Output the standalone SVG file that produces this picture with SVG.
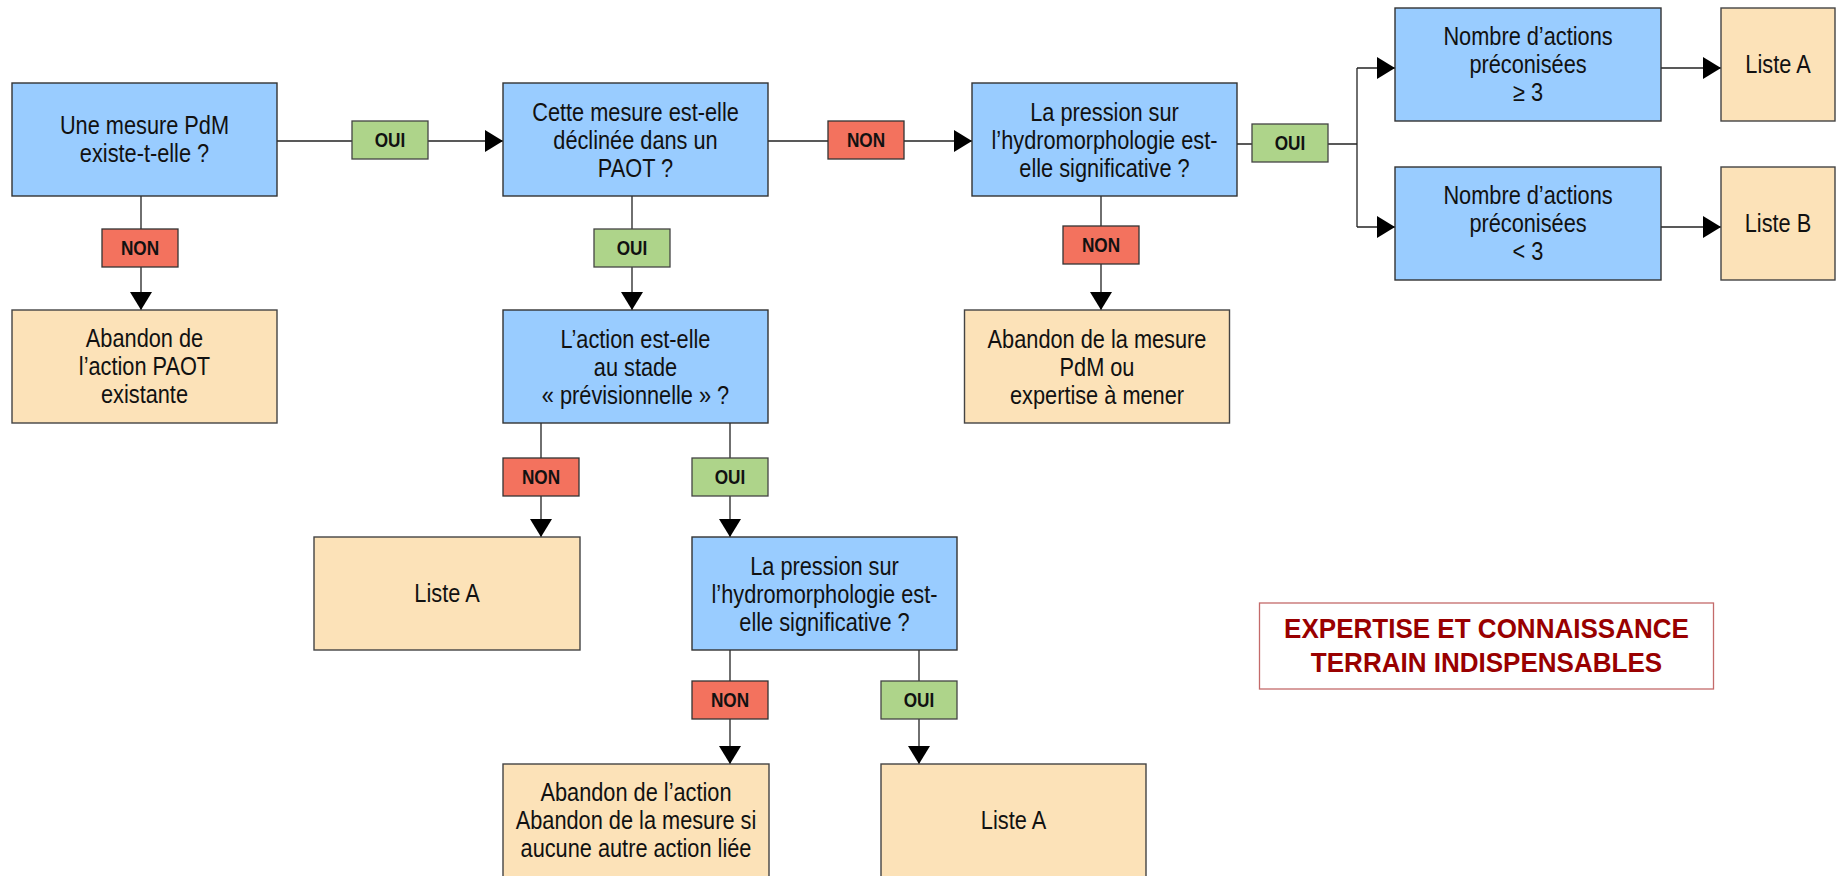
<svg xmlns="http://www.w3.org/2000/svg" width="1840" height="876" viewBox="0 0 1840 876">
<defs>
<marker id="arr" markerUnits="userSpaceOnUse" markerWidth="18" markerHeight="22" refX="18" refY="11" orient="auto" viewBox="0 0 18 22">
<path d="M0,0 L18,11 L0,22 Z" fill="#000"/>
</marker>
<style>
.q{fill:#99CCFF;stroke:#333;stroke-width:1.4}
.r{fill:#FCE2B8;stroke:#444;stroke-width:1.4}
.t{font-family:"Liberation Sans",Arial,sans-serif;font-size:25px;fill:#111;text-anchor:middle}
.ln{fill:none;stroke:#222;stroke-width:1.3}
.no{fill:#F3725E;stroke:#333;stroke-width:1.3}
.yes{fill:#AED48A;stroke:#444;stroke-width:1.3}
.lb{font-family:"Liberation Sans",Arial,sans-serif;font-size:20px;font-weight:bold;fill:#111;text-anchor:middle}
.ex{font-family:"Liberation Sans",Arial,sans-serif;font-size:28px;font-weight:bold;fill:#990000;text-anchor:middle}
</style>
</defs>
<rect width="1840" height="876" fill="#fff"/>

<g id="connectors">
<path class="ln" d="M277,141 H503" marker-end="url(#arr)"/>
<path class="ln" d="M768,141 H972" marker-end="url(#arr)"/>
<path class="ln" d="M141,196 V310" marker-end="url(#arr)"/>
<path class="ln" d="M632,196 V310" marker-end="url(#arr)"/>
<path class="ln" d="M1101,196 V310" marker-end="url(#arr)"/>
<path class="ln" d="M1237,144 H1357"/>
<path class="ln" d="M1357,68 V227"/>
<path class="ln" d="M1357,68 H1395" marker-end="url(#arr)"/>
<path class="ln" d="M1357,227 H1395" marker-end="url(#arr)"/>
<path class="ln" d="M1661,68 H1721" marker-end="url(#arr)"/>
<path class="ln" d="M1661,227 H1721" marker-end="url(#arr)"/>
<path class="ln" d="M541,423 V537" marker-end="url(#arr)"/>
<path class="ln" d="M730,423 V537" marker-end="url(#arr)"/>
<path class="ln" d="M730,650 V764" marker-end="url(#arr)"/>
<path class="ln" d="M919,650 V764" marker-end="url(#arr)"/>

<rect class="yes" x="352" y="121" width="76" height="38"/><text class="lb" transform="translate(390,147) scale(0.86,1)">OUI</text>
<rect class="no" x="828" y="121" width="76" height="38"/><text class="lb" transform="translate(866,147) scale(0.86,1)">NON</text>
<rect class="no" x="102" y="229" width="76" height="38"/><text class="lb" transform="translate(140,255) scale(0.86,1)">NON</text>
<rect class="yes" x="594" y="229" width="76" height="38"/><text class="lb" transform="translate(632,255) scale(0.86,1)">OUI</text>
<rect class="no" x="1063" y="226" width="76" height="38"/><text class="lb" transform="translate(1101,252) scale(0.86,1)">NON</text>
<rect class="yes" x="1252" y="124" width="76" height="38"/><text class="lb" transform="translate(1290,150) scale(0.86,1)">OUI</text>
<rect class="no" x="503" y="458" width="76" height="38"/><text class="lb" transform="translate(541,484) scale(0.86,1)">NON</text>
<rect class="yes" x="692" y="458" width="76" height="38"/><text class="lb" transform="translate(730,484) scale(0.86,1)">OUI</text>
<rect class="no" x="692" y="681" width="76" height="38"/><text class="lb" transform="translate(730,707) scale(0.86,1)">NON</text>
<rect class="yes" x="881" y="681" width="76" height="38"/><text class="lb" transform="translate(919,707) scale(0.86,1)">OUI</text>
</g>

<g id="n1"><rect class="q" x="12" y="83" width="265" height="113"/>
<g transform="translate(144.5,0) scale(0.87,1)"><text class="t" x="0" y="134.5">Une mesure PdM</text><text class="t" x="0" y="162.5">existe-t-elle ?</text></g></g>
<g id="n2"><rect class="r" x="12" y="310" width="265" height="113"/>
<g transform="translate(144.5,0) scale(0.87,1)"><text class="t" x="0" y="347.5">Abandon de</text><text class="t" x="0" y="375.5">l’action PAOT</text><text class="t" x="0" y="403.5">existante</text></g></g>
<g id="n3"><rect class="q" x="503" y="83" width="265" height="113"/>
<g transform="translate(635.5,0) scale(0.87,1)"><text class="t" x="0" y="121">Cette mesure est-elle</text><text class="t" x="0" y="149">déclinée dans un</text><text class="t" x="0" y="177">PAOT ?</text></g></g>
<g id="n4"><rect class="q" x="503" y="310" width="265" height="113"/>
<g transform="translate(635.5,0) scale(0.87,1)"><text class="t" x="0" y="348">L’action est-elle</text><text class="t" x="0" y="376">au stade</text><text class="t" x="0" y="404">« prévisionnelle » ?</text></g></g>
<g id="n5"><rect class="q" x="972" y="83" width="265" height="113"/>
<g transform="translate(1104.5,0) scale(0.87,1)"><text class="t" x="0" y="121">La pression sur</text><text class="t" x="0" y="149">l’hydromorphologie est-</text><text class="t" x="0" y="177">elle significative ?</text></g></g>
<g id="n6"><rect class="r" x="964.5" y="310" width="265" height="113"/>
<g transform="translate(1097,0) scale(0.87,1)"><text class="t" x="0" y="348">Abandon de la mesure</text><text class="t" x="0" y="376">PdM ou</text><text class="t" x="0" y="404">expertise à mener</text></g></g>
<g id="n7"><rect class="q" x="1395" y="8" width="266" height="113"/>
<g transform="translate(1528,0) scale(0.87,1)"><text class="t" x="0" y="45">Nombre d’actions</text><text class="t" x="0" y="73">préconisées</text><text class="t" x="0" y="101">≥ 3</text></g></g>
<g id="n8"><rect class="q" x="1395" y="167" width="266" height="113"/>
<g transform="translate(1528,0) scale(0.87,1)"><text class="t" x="0" y="204">Nombre d’actions</text><text class="t" x="0" y="232">préconisées</text><text class="t" x="0" y="260">&lt; 3</text></g></g>
<g id="n9"><rect class="r" x="1721" y="8" width="114" height="113"/>
<g transform="translate(1778,0) scale(0.87,1)"><text class="t" x="0" y="73">Liste A</text></g></g>
<g id="n10"><rect class="r" x="1721" y="167" width="114" height="113"/>
<g transform="translate(1778,0) scale(0.87,1)"><text class="t" x="0" y="232">Liste B</text></g></g>
<g id="n11"><rect class="r" x="314" y="537" width="266" height="113"/>
<g transform="translate(447,0) scale(0.87,1)"><text class="t" x="0" y="602">Liste A</text></g></g>
<g id="n12"><rect class="q" x="692" y="537" width="265" height="113"/>
<g transform="translate(824.5,0) scale(0.87,1)"><text class="t" x="0" y="575">La pression sur</text><text class="t" x="0" y="603">l’hydromorphologie est-</text><text class="t" x="0" y="631">elle significative ?</text></g></g>
<g id="n13"><rect class="r" x="503" y="764" width="266" height="113"/>
<g transform="translate(636,0) scale(0.87,1)"><text class="t" x="0" y="801">Abandon de l’action</text><text class="t" x="0" y="829">Abandon de la mesure si</text><text class="t" x="0" y="857">aucune autre action liée</text></g></g>
<g id="n14"><rect class="r" x="881" y="764" width="265" height="113"/>
<g transform="translate(1013.5,0) scale(0.87,1)"><text class="t" x="0" y="829">Liste A</text></g></g>
<g id="n15"><rect x="1259.5" y="603" width="454" height="86" fill="#fff" stroke="#C46A6A" stroke-width="1.3"/>
<g transform="translate(1486.5,0) scale(0.93,1)"><text class="ex" x="0" y="638">EXPERTISE ET CONNAISSANCE</text><text class="ex" x="0" y="672.5">TERRAIN INDISPENSABLES</text></g></g>
</svg>
